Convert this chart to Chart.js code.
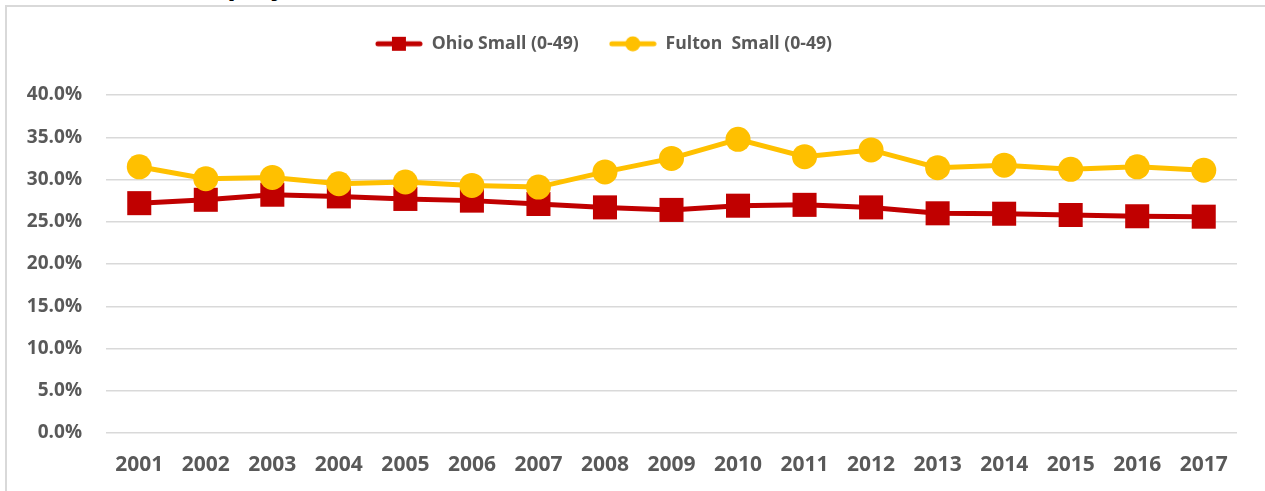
<!DOCTYPE html>
<html>
<head>
<meta charset="utf-8">
<script src="https://cdn.jsdelivr.net/npm/chart.js@4.4.1/dist/chart.umd.min.js"></script>
<style>
    html, body { margin: 0; padding: 0; background: #fff; overflow: hidden; }
    .wrap { position: relative; width: 1265px; height: 491px; overflow: hidden; }
    .frame { position: absolute; left: 5px; top: 5px; width: 1300px; height: 520px; border-left: 2px solid #d9d9d9; border-top: 2px solid #d9d9d9; pointer-events: none; }
    .cut-title { position: absolute; left: 184px; top: -31px; font: bold 28px "Open Sans", sans-serif; line-height: 28px; color: #000; white-space: nowrap; }
    canvas { position: absolute; left: 0; top: 0; }
</style>
</head>
<body>
<div class="wrap">
    <div class="cut-title">Employment</div>
    <div class="frame"></div>
    <canvas id="chart" width="1265" height="491"></canvas>
</div>
<script>
const years = ['2001','2002','2003','2004','2005','2006','2007','2008','2009','2010','2011','2012','2013','2014','2015','2016','2017'];
const ohioSmall = [27.2, 27.6, 28.2, 28.0, 27.7, 27.5, 27.1, 26.7, 26.4, 26.9, 27.0, 26.7, 26.0, 25.95, 25.8, 25.65, 25.6];
const fultonSmall = [31.5, 30.1, 30.25, 29.5, 29.7, 29.3, 29.1, 30.9, 32.5, 34.75, 32.7, 33.5, 31.4, 31.7, 31.2, 31.5, 31.1];
const seriesNames = ['Ohio Small (0-49)', 'Fulton  Small (0-49)'];
const yMin = 0, yMax = 40, yStep = 5;

const RED = '#C00000';
const GOLD = '#FFC000';
const TEXT = '#595959';
const FONT = '"Open Sans", sans-serif';

// little line+marker swatches for the legend
function swatch(color, shape) {
    const c = document.createElement('canvas');
    c.width = 48; c.height = 16;
    const g = c.getContext('2d');
    g.strokeStyle = color;
    g.lineWidth = 5;
    g.lineCap = 'round';
    g.beginPath(); g.moveTo(3, 8); g.lineTo(45, 8); g.stroke();
    g.fillStyle = color;
    if (shape === 'rect') g.fillRect(17, 1, 14, 14);
    else { g.beginPath(); g.arc(24, 8, 7.5, 0, Math.PI * 2); g.fill(); }
    return c;
}
const swatches = [swatch(RED, 'rect'), swatch(GOLD, 'circle')];

const legendHeight = {
    id: 'legendHeight',
    beforeInit(chart) {
        const fit = chart.legend.fit;
        chart.legend.fit = function () {
            fit.bind(this)();
            this.height = 90;
        };
    },
    afterLayout(chart) {
        chart.legend.right -= 30;
    }
};

new Chart(document.getElementById('chart').getContext('2d'), {
    type: 'line',
    data: {
        labels: years,
        datasets: [{
            label: seriesNames[0],
            data: ohioSmall,
            borderColor: RED,
            backgroundColor: RED,
            borderWidth: 5,
            pointStyle: 'rect',
            pointRadius: 17,
            pointBorderWidth: 0,
            order: 1
        }, {
            label: seriesNames[1],
            data: fultonSmall,
            borderColor: GOLD,
            backgroundColor: GOLD,
            borderWidth: 5,
            pointStyle: 'circle',
            pointRadius: 12.5,
            pointBorderWidth: 0,
            order: 0
        }]
    },
    options: {
        responsive: false,
        animation: false,
        devicePixelRatio: 1,
        events: [],
        layout: { padding: { left: 0, right: 28, top: 5, bottom: 0 } },
        plugins: {
            tooltip: { enabled: false },
            legend: {
                position: 'top',
                labels: {
                    usePointStyle: true,
                    pointStyleWidth: 48,
                    boxHeight: 16,
                    padding: 30,
                    color: TEXT,
                    font: { family: FONT, size: 17.6, weight: 'bold' },
                    generateLabels: () => seriesNames.map((name, i) => ({
                        text: name,
                        pointStyle: swatches[i],
                        fillStyle: 'transparent',
                        strokeStyle: 'transparent',
                        lineWidth: 0,
                        hidden: false,
                        datasetIndex: i,
                        fontColor: TEXT
                    }))
                }
            }
        },
        scales: {
            x: {
                offset: true,
                afterFit(scale) { scale.height = 58; },
                grid: { display: false },
                border: { display: false },
                ticks: { color: TEXT, padding: 11, font: { family: FONT, size: 21, weight: 'bold' }, maxRotation: 0 }
            },
            y: {
                min: yMin,
                max: yMax,
                afterFit(scale) { scale.width = 106; },
                grid: { color: '#d9d9d9', lineWidth: 1.5, drawTicks: false },
                border: { display: false },
                ticks: {
                    stepSize: yStep,
                    padding: 24,
                    color: TEXT,
                    font: { family: FONT, size: 19, weight: 'bold' },
                    callback: v => v.toFixed(1) + '%'
                }
            }
        }
    },
    plugins: [legendHeight]
});
</script>
</body>
</html>
